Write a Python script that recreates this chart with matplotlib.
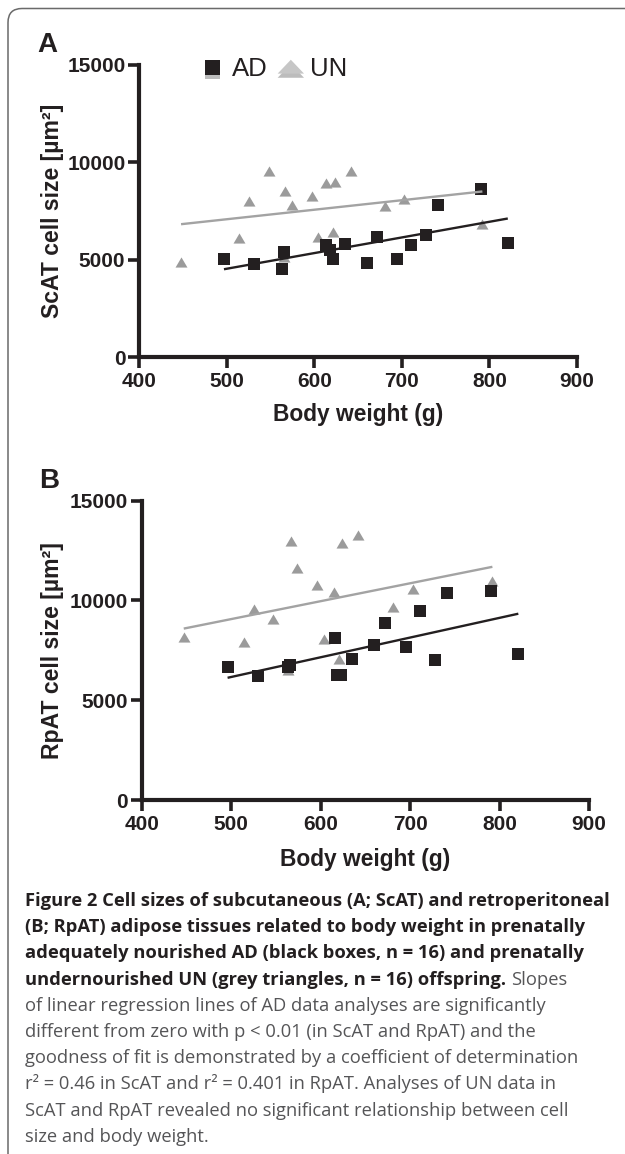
import numpy as np
import matplotlib
matplotlib.use("Agg")
import matplotlib.pyplot as plt
import matplotlib.patheffects as pe
from matplotlib.lines import Line2D
from matplotlib.patches import FancyBboxPatch
from matplotlib.transforms import IdentityTransform

# Werte
# A: ScAT
bw_ad_a = [497, 531, 563, 566, 614, 618, 622, 635, 660, 672, 695, 711, 728, 741, 790, 821]
scat_ad = [5050, 4790, 4530, 5390, 5760, 5520, 5050, 5810, 4840, 6190, 5050, 5760, 6290, 7820, 8640, 5850]
bw_un_a = [448, 514, 526, 548, 567, 565, 575, 597, 604, 614, 624, 621, 642, 681, 702, 792]
scat_un = [4870, 6100, 7990, 9580, 8550, 5130, 7820, 8290, 6160, 8930, 9010, 6410, 9580, 7780, 8120, 6810]

# B: RpAT
bw_ad_b = [496, 530, 563, 566, 616, 618, 623, 635, 660, 672, 695, 711, 728, 741, 790, 821]
rpat_ad = [6670, 6200, 6670, 6750, 8130, 6250, 6250, 7060, 7790, 8880, 7680, 9470, 7040, 10360, 10480, 7310]
bw_un_b = [447, 514, 525, 547, 567, 564, 574, 596, 604, 615, 624, 621, 642, 681, 703, 792]
rpat_un = [8180, 7930, 9550, 9050, 12960, 6500, 11620, 10780, 8050, 10440, 12870, 7090, 13290, 9690, 10580, 10980]

x_ticks = [400, 500, 600, 700, 800, 900]
y_ticks = [0, 5000, 10000, 15000]

caption_lines = [
    ("Figure 2 Cell sizes of subcutaneous (A; ScAT) and retroperitoneal", ""),
    ("(B; RpAT) adipose tissues related to body weight in prenatally", ""),
    ("adequately nourished AD (black boxes, n = 16) and prenatally", ""),
    ("undernourished UN (grey triangles, n = 16) offspring.", "Slopes"),
    ("", "of linear regression lines of AD data analyses are significantly"),
    ("", "different from zero with p < 0.01 (in ScAT and RpAT) and the"),
    ("", "goodness of fit is demonstrated by a coefficient of determination"),
    ("", "r\u00b2 = 0.46 in ScAT and r\u00b2 = 0.401 in RpAT. Analyses of UN data in"),
    ("", "ScAT and RpAT revealed no significant relationship between cell"),
    ("", "size and body weight."),
]

W, H = 625, 1154
DARK = "#231f20"
UN_GREY = "#9b9b9b"
LINE_GREY = "#a3a3a3"
AX_FONT = "Liberation Sans"

tri_data = [(-1, -0.85), (1, -0.85), (0, 0.85), (-1, -0.85)]
tri_leg = [(-1, -0.5), (1, -0.5), (0, 0.55), (-1, -0.5)]

fig = plt.figure(figsize=(W / 100, H / 100), dpi=100)

# Rahmen
frame = FancyBboxPatch((8, -60), 700, H - 8.5 + 60, boxstyle="round,pad=0,rounding_size=14",
                       transform=IdentityTransform(), fill=False, edgecolor="#6a6a6a",
                       linewidth=1.1)
fig.patches.append(frame)


def panel(rect, bw_ad, y_ad, bw_un, y_un, ylabel, letter, letter_xy, label_xy):
    ax = fig.add_axes(rect)
    ax.plot(bw_un, y_un, linestyle="none", marker=tri_data, markersize=8.6,
            color=UN_GREY, markeredgewidth=0, clip_on=False, zorder=2)
    ax.plot(bw_ad, y_ad, linestyle="none", marker="s", markersize=8,
            color=DARK, markeredgewidth=0, clip_on=False, zorder=3)
    # Regressionsgeraden
    for bw, yy, col in ((bw_un, y_un, LINE_GREY), (bw_ad, y_ad, DARK)):
        k, d = np.polyfit(bw, yy, 1)
        xs = np.array([min(bw), max(bw)])
        ax.plot(xs, k * xs + d, color=col, linewidth=1.7, zorder=4,
                solid_capstyle="butt")
    ax.set_xlim(400, 900)
    ax.set_ylim(0, 15000)
    ax.set_xticks(x_ticks)
    ax.set_yticks(y_ticks)
    for s in ("top", "right"):
        ax.spines[s].set_visible(False)
    for s in ("left", "bottom"):
        ax.spines[s].set_linewidth(3.0)
        ax.spines[s].set_color(DARK)
    ax.tick_params(direction="out", length=8, width=2.6, color=DARK,
                   labelsize=15, labelcolor=DARK)
    ax.tick_params(axis="x", pad=2.5)
    ax.tick_params(axis="y", pad=1.8)
    for lab in ax.get_xticklabels() + ax.get_yticklabels():
        lab.set_fontfamily(AX_FONT)
        lab.set_fontweight("bold")
    ax.set_xlabel("Body weight (g)", fontsize=16.4, fontweight="bold",
                  family=AX_FONT, color=DARK)
    ax.xaxis.set_label_coords(0.5, label_xy[0])
    ax.xaxis.label.set_va("baseline")
    ax.set_ylabel(ylabel, fontsize=16.6, fontweight="bold", family=AX_FONT, color=DARK)
    ax.yaxis.set_label_coords(label_xy[1], 0.5)
    ax.yaxis.label.set_va("center")
    fig.text(letter_xy[0] / W, 1 - letter_xy[1] / H, letter, fontsize=20,
             fontweight="bold", family=AX_FONT, color=DARK, va="baseline")
    return ax


ax_a = panel([139 / W, 1 - 357 / H, 438 / W, 292 / H], bw_ad_a, scat_ad, bw_un_a, scat_un,
             "ScAT cell size [\u00b5m\u00b2]", "A", (37, 52), (-0.219, -0.197))
ax_b = panel([141.7 / W, 1 - 800 / H, 447.3 / W, 299.3 / H], bw_ad_b, rpat_ad, bw_un_b, rpat_un,
             "RpAT cell size [\u00b5m\u00b2]", "B", (39, 488), (-0.2205, -0.199))

# Legende (nur A)
shadow = [pe.SimplePatchShadow(offset=(0, -3), shadow_rgbFace="0.35", alpha=0.4), pe.Normal()]
h_ad = Line2D([], [], linestyle="none", marker="s", markersize=10.8, color=DARK,
              markeredgewidth=0, path_effects=shadow)
h_un = Line2D([], [], linestyle="none", marker=tri_leg, markersize=19, color="#c6c6c6",
              markeredgewidth=0, path_effects=shadow)
leg = ax_a.legend([h_ad, h_un], ["AD", "UN"], loc="center left",
                  bbox_to_anchor=(187 / W, 1 - 69 / H), bbox_transform=fig.transFigure,
                  ncol=2, frameon=False, borderpad=0, handlelength=1.0,
                  handletextpad=0.25, columnspacing=0.4,
                  prop={"family": AX_FONT, "size": 18.5})
for t in leg.get_texts():
    t.set_color(DARK)

# Bildunterschrift
CAP_FONT = ["Open Sans", "DejaVu Sans"]
cap_size = 13.2
x0 = 25
renderer = fig.canvas.get_renderer()
for i, (bold, regular) in enumerate(caption_lines):
    yb = 1 - (906 + 26.2 * i) / H
    xr = x0 / W
    if bold:
        tb = fig.text(x0 / W, yb, bold, fontsize=cap_size, fontweight="bold",
                      family=CAP_FONT, color=DARK, va="baseline")
        bb = tb.get_window_extent(renderer)
        xr = (bb.x1 + 5) / W
    if regular:
        fig.text(xr, yb, regular, fontsize=cap_size, fontweight="normal",
                 family=CAP_FONT, color="#555557", va="baseline")

fig.savefig("out.png", dpi=100)
